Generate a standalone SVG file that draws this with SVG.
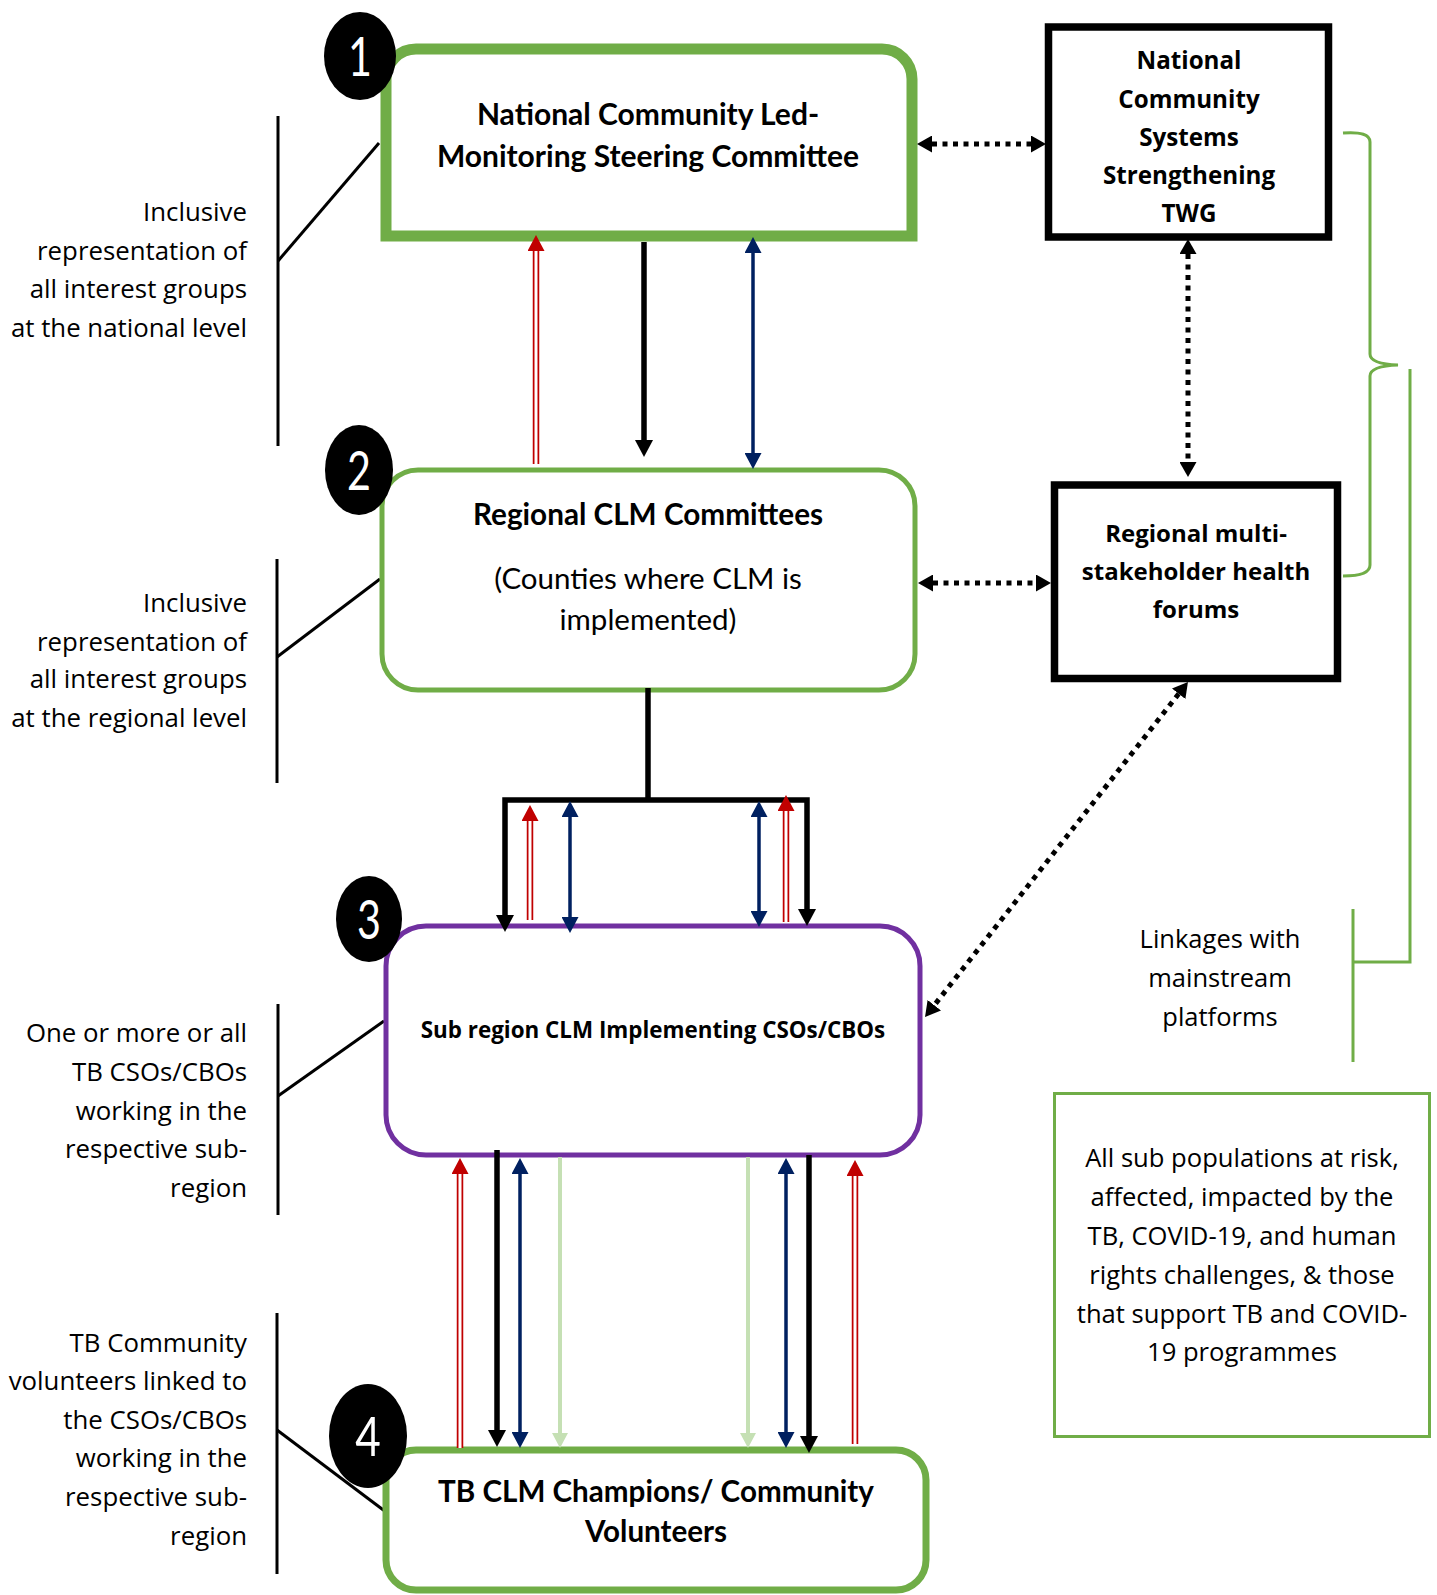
<svg xmlns="http://www.w3.org/2000/svg" width="1437" height="1595" viewBox="0 0 1437 1595">
<style>
.side{font-family:"Open Sans","DejaVu Sans",sans-serif;font-size:25.8px;fill:#000;text-anchor:end}
.seg{font-family:"Open Sans","DejaVu Sans",sans-serif;fill:#000;text-anchor:middle}
.cal{font-family:Lato,"Liberation Sans",sans-serif;fill:#000;text-anchor:middle}
.b{font-weight:bold}
.num{font-family:Lato,"Liberation Sans",sans-serif;font-size:55px;fill:#fff;text-anchor:middle}
.lead{stroke:#000;stroke-width:3;fill:none}
.gl{stroke:#70AD47;stroke-width:3;fill:none}
.blk{stroke:#000;stroke-width:5.5;fill:none}
.navy{stroke:#002060;stroke-width:3.5;fill:none}
.lg{stroke:#C5E0B4;stroke-width:4;fill:none}
.redo{stroke:#C00000;stroke-width:6.5;fill:none}
.redi{stroke:#fff;stroke-width:3;fill:none}
.dot{stroke:#000;stroke-width:5;stroke-dasharray:5 5.5;fill:none}
</style>
<defs>
<marker id="hB" markerUnits="userSpaceOnUse" viewBox="0 0 17 18" markerWidth="17" markerHeight="18" refX="0" refY="9" orient="auto-start-reverse"><path d="M0,0 L17,9 L0,18 Z" fill="#000"/></marker>
<marker id="hN" markerUnits="userSpaceOnUse" viewBox="0 0 16 17" markerWidth="16" markerHeight="17" refX="0" refY="8.5" orient="auto-start-reverse"><path d="M0,0 L16,8.5 L0,17 Z" fill="#002060"/></marker>
<marker id="hR" markerUnits="userSpaceOnUse" viewBox="0 0 16 17" markerWidth="16" markerHeight="17" refX="0" refY="8.5" orient="auto-start-reverse"><path d="M0,0 L16,8.5 L0,17 Z" fill="#C00000"/></marker>
<marker id="hG" markerUnits="userSpaceOnUse" viewBox="0 0 15 16" markerWidth="15" markerHeight="16" refX="0" refY="8" orient="auto-start-reverse"><path d="M0,0 L15,8 L0,16 Z" fill="#C5E0B4"/></marker>
<marker id="hD" markerUnits="userSpaceOnUse" viewBox="0 0 15 17" markerWidth="15" markerHeight="17" refX="0" refY="8.5" orient="auto-start-reverse"><path d="M0,0 L15,8.5 L0,17 Z" fill="#000"/></marker>
</defs>
<rect width="1437" height="1595" fill="#fff"/>

<g id="side-notes">
<g id="note1">
<line class="lead" x1="278" y1="116" x2="278" y2="446"/><line class="lead" x1="278" y1="261" x2="379" y2="143"/>
<text class="side" x="247"><tspan x="247" y="221">Inclusive</tspan><tspan x="247" y="260">representation of</tspan><tspan x="247" y="298">all interest groups</tspan><tspan x="247" y="337">at the national level</tspan></text>
</g>
<g id="note2">
<line class="lead" x1="277" y1="559" x2="277" y2="783"/><line class="lead" x1="277" y1="657" x2="380" y2="579"/>
<text class="side"><tspan x="247" y="612">Inclusive</tspan><tspan x="247" y="651">representation of</tspan><tspan x="247" y="688">all interest groups</tspan><tspan x="247" y="727">at the regional level</tspan></text>
</g>
<g id="note3">
<line class="lead" x1="278" y1="1004" x2="278" y2="1215"/><line class="lead" x1="278" y1="1096" x2="384" y2="1021"/>
<text class="side"><tspan x="247" y="1042">One or more or all</tspan><tspan x="247" y="1081">TB CSOs/CBOs</tspan><tspan x="247" y="1120">working in the</tspan><tspan x="247" y="1158">respective sub-</tspan><tspan x="247" y="1197">region</tspan></text>
</g>
<g id="note4">
<line class="lead" x1="277" y1="1313" x2="277" y2="1574"/><line class="lead" x1="277" y1="1430" x2="386" y2="1512"/>
<text class="side"><tspan x="247" y="1352">TB Community</tspan><tspan x="247" y="1390">volunteers linked to</tspan><tspan x="247" y="1429">the CSOs/CBOs</tspan><tspan x="247" y="1467">working in the</tspan><tspan x="247" y="1506">respective sub-</tspan><tspan x="247" y="1545">region</tspan></text>
</g>
</g>

<g id="node1">
<path d="M386,236 L386,79 A30,30 0 0 1 416,49 L882,49 A30,30 0 0 1 912,79 L912,236 Z" fill="#fff" stroke="#70AD47" stroke-width="11"/>
<text class="cal b" font-size="30"><tspan x="648" y="125">National Community Led-</tspan><tspan x="648" y="167">Monitoring Steering Committee</tspan></text>
</g>
<g id="node2">
<rect x="382" y="470" width="533" height="220" rx="36" fill="#fff" stroke="#70AD47" stroke-width="5"/>
<text class="cal b" font-size="29.7" x="648" y="525">Regional CLM Committees</text>
<text class="cal" font-size="29.5"><tspan x="648" y="589">(Counties where CLM is</tspan><tspan x="648" y="630">implemented)</tspan></text>
</g>
<g id="node3">
<rect x="386" y="926" width="534" height="229" rx="40" fill="#fff" stroke="#7030A0" stroke-width="5"/>
<text class="seg b" font-size="22.4" x="653" y="1038">Sub region CLM Implementing CSOs/CBOs</text>
</g>
<g id="node4">
<rect x="386" y="1450" width="540" height="140" rx="30" fill="#fff" stroke="#70AD47" stroke-width="7"/>
<text class="cal b" font-size="29.6"><tspan x="656" y="1502">TB CLM Champions/ Community</tspan><tspan x="656" y="1542">Volunteers</tspan></text>
</g>
<g id="node-twg">
<rect x="1048.5" y="27" width="280" height="210" fill="#fff" stroke="#000" stroke-width="7.5"/>
<text class="seg b" font-size="24.2"><tspan x="1189" y="69">National</tspan><tspan x="1189" y="108">Community</tspan><tspan x="1189" y="146">Systems</tspan><tspan x="1189" y="184">Strengthening</tspan><tspan x="1189" y="222">TWG</tspan></text>
</g>
<g id="node-forum">
<rect x="1054.5" y="485" width="283" height="193.5" fill="#fff" stroke="#000" stroke-width="7.5"/>
<text class="seg b" font-size="24"><tspan x="1196" y="542">Regional multi-</tspan><tspan x="1196" y="580">stakeholder health</tspan><tspan x="1196" y="618">forums</tspan></text>
</g>
<g id="node-populations">
<rect x="1054.5" y="1093.5" width="375" height="343" fill="#fff" stroke="#70AD47" stroke-width="3"/>
<text class="seg" font-size="25.6"><tspan x="1242" y="1167">All sub populations at risk,</tspan><tspan x="1242" y="1206">affected, impacted by the</tspan><tspan x="1242" y="1245">TB, COVID-19, and human</tspan><tspan x="1242" y="1284">rights challenges, &amp; those</tspan><tspan x="1242" y="1323">that support TB and COVID-</tspan><tspan x="1242" y="1361">19 programmes</tspan></text>
</g>
<g id="linkages">
<path class="gl" d="M1343,133 Q1370,131 1370,142 L1370,354 Q1370,364 1398,365 Q1370,366 1370,376 L1370,565 Q1370,576 1343,576"/>
<path class="gl" d="M1410,369 L1410,962 L1353,962"/>
<line class="gl" x1="1353" y1="909" x2="1353" y2="1062"/>
<text class="seg" font-size="25.5"><tspan x="1220" y="948">Linkages with</tspan><tspan x="1220" y="987">mainstream</tspan><tspan x="1220" y="1026">platforms</tspan></text>
</g>

<g id="connectors">
<line class="redo" x1="536" y1="464" x2="536" y2="251" marker-end="url(#hR)"/><line class="redi" x1="536" y1="464" x2="536" y2="251"/>
<line class="blk" x1="644" y1="242" x2="644" y2="440" marker-end="url(#hB)"/>
<line class="navy" x1="753" y1="253" x2="753" y2="453" marker-start="url(#hN)" marker-end="url(#hN)"/>

<line class="blk" x1="648" y1="688" x2="648" y2="801"/>
<path class="blk" d="M505,915 L505,800 L807,800 L807,909" stroke-linejoin="miter" marker-start="url(#hB)" marker-end="url(#hB)"/>
<line class="redo" x1="530" y1="920" x2="530" y2="821" marker-end="url(#hR)"/><line class="redi" x1="530" y1="920" x2="530" y2="821"/>
<line class="redo" x1="786" y1="922" x2="786" y2="811" marker-end="url(#hR)"/><line class="redi" x1="786" y1="922" x2="786" y2="811"/>
<line class="navy" x1="570" y1="817" x2="570" y2="917" marker-start="url(#hN)" marker-end="url(#hN)"/>
<line class="navy" x1="759" y1="817" x2="759" y2="911" marker-start="url(#hN)" marker-end="url(#hN)"/>

<line class="redo" x1="460" y1="1448" x2="460" y2="1174" marker-end="url(#hR)"/><line class="redi" x1="460" y1="1448" x2="460" y2="1174"/>
<line class="blk" x1="497" y1="1150" x2="497" y2="1430" marker-end="url(#hB)"/>
<line class="navy" x1="520" y1="1174" x2="520" y2="1432" marker-start="url(#hN)" marker-end="url(#hN)"/>
<line class="lg" x1="560" y1="1157" x2="560" y2="1433" marker-end="url(#hG)"/>
<line class="lg" x1="748" y1="1157" x2="748" y2="1433" marker-end="url(#hG)"/>
<line class="navy" x1="786" y1="1174" x2="786" y2="1432" marker-start="url(#hN)" marker-end="url(#hN)"/>
<line class="blk" x1="809" y1="1155" x2="809" y2="1436" marker-end="url(#hB)"/>
<line class="redo" x1="855" y1="1444" x2="855" y2="1176" marker-end="url(#hR)"/><line class="redi" x1="855" y1="1444" x2="855" y2="1176"/>

<line class="dot" x1="932" y1="144" x2="1031" y2="144" marker-start="url(#hD)" marker-end="url(#hD)"/>
<line class="dot" x1="1188" y1="254" x2="1188" y2="462" marker-start="url(#hD)" marker-end="url(#hD)"/>
<line class="dot" x1="933" y1="583" x2="1036" y2="583" marker-start="url(#hD)" marker-end="url(#hD)"/>
<line class="dot" x1="1178.7" y1="693.8" x2="934.3" y2="1005.2" marker-start="url(#hD)" marker-end="url(#hD)"/>
</g>

<g id="badges">
<g id="badge1"><ellipse cx="360" cy="56" rx="36" ry="44" fill="#000"/><text class="num" transform="translate(360,76) scale(0.75,1)">1</text></g>
<g id="badge2"><ellipse cx="359" cy="470" rx="34" ry="45" fill="#000"/><text class="num" transform="translate(359,490) scale(0.75,1)">2</text></g>
<g id="badge3"><ellipse cx="369" cy="919" rx="33" ry="43" fill="#000"/><text class="num" transform="translate(369,939) scale(0.75,1)">3</text></g>
<g id="badge4"><ellipse cx="368" cy="1436" rx="39" ry="52" fill="#000"/><text class="num" transform="translate(368,1456) scale(0.8,1)">4</text></g>
</g>
</svg>
